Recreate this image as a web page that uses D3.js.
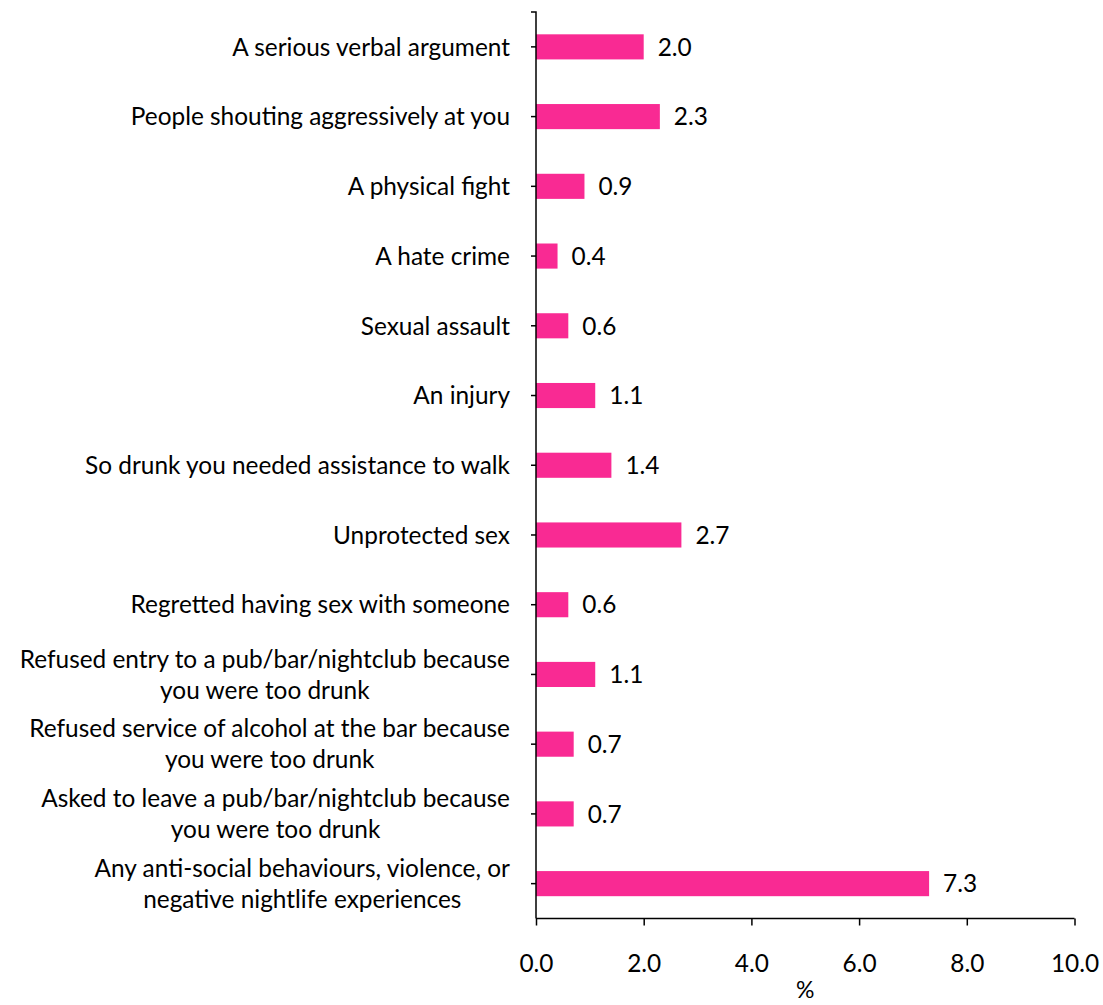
<!DOCTYPE html>
<html><head><meta charset="utf-8">
<script src="https://cdn.jsdelivr.net/npm/d3@7"></script>
<style>body{margin:0;background:#fff}svg{display:block}text{font-family:Lato,"Open Sans",sans-serif;fill:#000}</style>
</head><body>
<svg id="c" width="1103" height="1005"></svg>
<script>
const categories = [
  ["A serious verbal argument"],
  ["People shouting aggressively at you"],
  ["A physical fight"],
  ["A hate crime"],
  ["Sexual assault"],
  ["An injury"],
  ["So drunk you needed assistance to walk"],
  ["Unprotected sex"],
  ["Regretted having sex with someone"],
  ["Refused entry to a pub/bar/nightclub because", "you were too drunk"],
  ["Refused service of alcohol at the bar because", "you were too drunk"],
  ["Asked to leave a pub/bar/nightclub because", "you were too drunk"],
  ["Any anti-social behaviours, violence, or", "negative nightlife experiences"]
];
const values = [2.0, 2.3, 0.9, 0.4, 0.6, 1.1, 1.4, 2.7, 0.6, 1.1, 0.7, 0.7, 7.3];
const xTicks = [0, 2, 4, 6, 8, 10];
const xLabel = "%";

const svg = d3.select("#c");
const pl = 536, pr = 1074.5, pt = 12, pb = 918.5;
const keys = categories.map((d, i) => i);
const x = d3.scaleLinear().domain([0, 10]).range([pl, pr]);
const y = d3.scaleBand().domain(keys).range([pt, pb]).paddingInner(0.64).paddingOuter(0.32);
const FS = 24.4;

svg.selectAll("rect.bar").data(values).join("rect")
  .attr("class", "bar")
  .attr("x", x(0)).attr("y", (d, i) => y(i))
  .attr("width", d => x(d) - x(0)).attr("height", y.bandwidth())
  .attr("fill", "#f92a93");

svg.selectAll("text.val").data(values).join("text")
  .attr("class", "val")
  .attr("x", d => x(d) + 14).attr("y", (d, i) => y(i) + y.bandwidth() / 2)
  .attr("dy", "0.36em").attr("font-size", FS).text(d => d.toFixed(1));

const yAxis = d3.axisLeft(y).tickSize(5).tickFormat("");
const gy = svg.append("g").attr("transform", `translate(${pl},0)`).call(yAxis);
gy.select(".domain").attr("d", `M-5,${pt}H0V${pb}`).attr("stroke", "#000").attr("stroke-width", 1.5).attr("fill", "none");
gy.selectAll(".tick line").attr("stroke", "#000").attr("stroke-width", 1.5);

const lab = svg.append("g");
categories.forEach((lines, i) => {
  const cy = y(i) + y.bandwidth() / 2;
  const lh = 31;
  const t = lab.append("text").attr("text-anchor", "middle").attr("font-size", FS);
  lines.forEach((s, j) => {
    t.append("tspan").attr("y", cy + (j - (lines.length - 1) / 2) * lh).attr("dy", "0.36em").text(s);
  });
  const w = d3.max(t.selectAll("tspan").nodes(), n => n.getComputedTextLength());
  const cx = pl - 26 - w / 2;
  t.selectAll("tspan").attr("x", cx);
});

const xAxis = d3.axisBottom(x).tickValues(xTicks).tickSize(7).tickFormat(d => d.toFixed(1));
const gx = svg.append("g").attr("transform", `translate(0,${pb})`).call(xAxis);
gx.select(".domain").attr("d", `M${pl},0H${pr}`).attr("stroke", "#000").attr("stroke-width", 1.5);
gx.selectAll(".tick line").attr("stroke", "#000").attr("stroke-width", 1.5);
gx.selectAll(".tick text").attr("font-size", FS).attr("y", 45).attr("dy", "0.36em")
  .style("font-family", "Lato, 'Open Sans', sans-serif").attr("fill", "#000");

svg.append("text").attr("x", (pl + pr) / 2).attr("y", 990).attr("dy", "0.36em")
  .attr("text-anchor", "middle").attr("font-size", 23).text(xLabel);
</script>
</body></html>
